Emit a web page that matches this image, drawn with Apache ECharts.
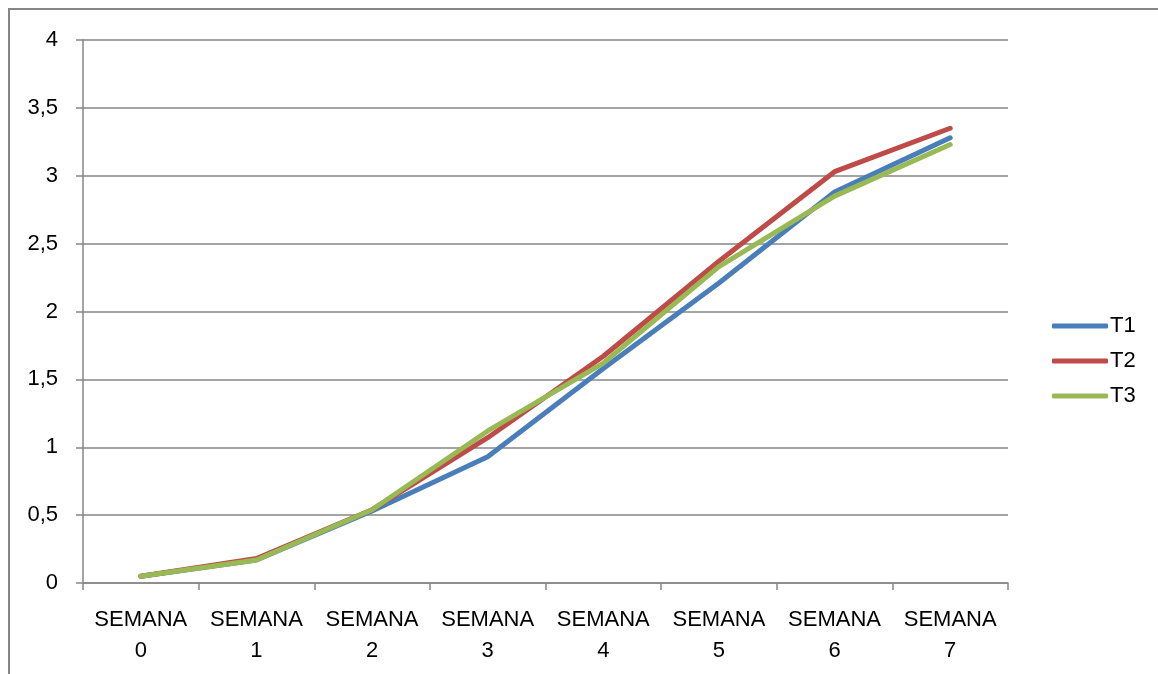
<!DOCTYPE html>
<html>
<head>
<meta charset="utf-8">
<script src="https://cdn.jsdelivr.net/npm/echarts@6/dist/echarts.min.js"></script>
<style>
html,body{margin:0;padding:0;background:#fff;}
#frame{position:absolute;left:8px;top:8px;width:1200px;height:700px;border-left:2px solid #868686;border-top:2px solid #868686;box-sizing:border-box;}
#chart{position:absolute;left:0;top:0;width:1158px;height:674px;}
</style>
</head>
<body>
<div id="frame"></div>
<div id="chart"></div>
<script>
const categories = ['SEMANA\n0','SEMANA\n1','SEMANA\n2','SEMANA\n3','SEMANA\n4','SEMANA\n5','SEMANA\n6','SEMANA\n7'];
const T1 = [0.05, 0.17, 0.53, 0.93, 1.58, 2.21, 2.88, 3.28];
const T2 = [0.05, 0.18, 0.54, 1.07, 1.67, 2.37, 3.03, 3.35];
const T3 = [0.05, 0.17, 0.54, 1.12, 1.62, 2.33, 2.85, 3.23];
const seriesNames = ['T1','T2','T3'];
const colors = ['#4A7EBB','#BE4B48','#98B954'];
const yTicks = [0,0.5,1,1.5,2,2.5,3,3.5,4];

const font = 'Liberation Sans';
const chart = echarts.init(document.getElementById('chart'));
const seriesData = [T1,T2,T3];
chart.setOption({
  animation:false,
  color: colors,
  textStyle:{fontFamily:font},
  grid:{left:83,right:150,top:40,bottom:91},
  legend:{
    orient:'vertical', left:1047, top:310, itemWidth:56, itemHeight:5, itemGap:13,
    icon:'roundRect',
    textStyle:{fontFamily:font,fontSize:22,color:'#000',padding:[0,0,0,-3]},
    data: seriesNames
  },
  xAxis:{
    type:'category', data:categories, boundaryGap:true,
    axisLine:{lineStyle:{color:'#868686',width:1.5}},
    axisTick:{show:true,length:7,lineStyle:{color:'#868686',width:1.5},alignWithLabel:false},
    axisLabel:{color:'#000',fontSize:22,fontFamily:font,lineHeight:31,margin:21,interval:0}
  },
  yAxis:{
    type:'value', min:0, max:4, interval:0.5,
    axisLine:{show:true,lineStyle:{color:'#868686',width:1.5}},
    axisTick:{show:true,length:7,lineStyle:{color:'#868686',width:1.5}},
    splitLine:{show:true,lineStyle:{color:'#868686',width:1.5}},
    axisLabel:{color:'#000',fontSize:22,fontFamily:font,margin:25,
      formatter:v=>String(v).replace('.',',')}
  },
  series: seriesNames.map((n,i)=>({
    name:n, type:'line', data:seriesData[i], symbol:'none',
    lineStyle:{width:5,color:colors[i],cap:'round',join:'round'},
    itemStyle:{color:colors[i]}
  }))
});
</script>
</body>
</html>
